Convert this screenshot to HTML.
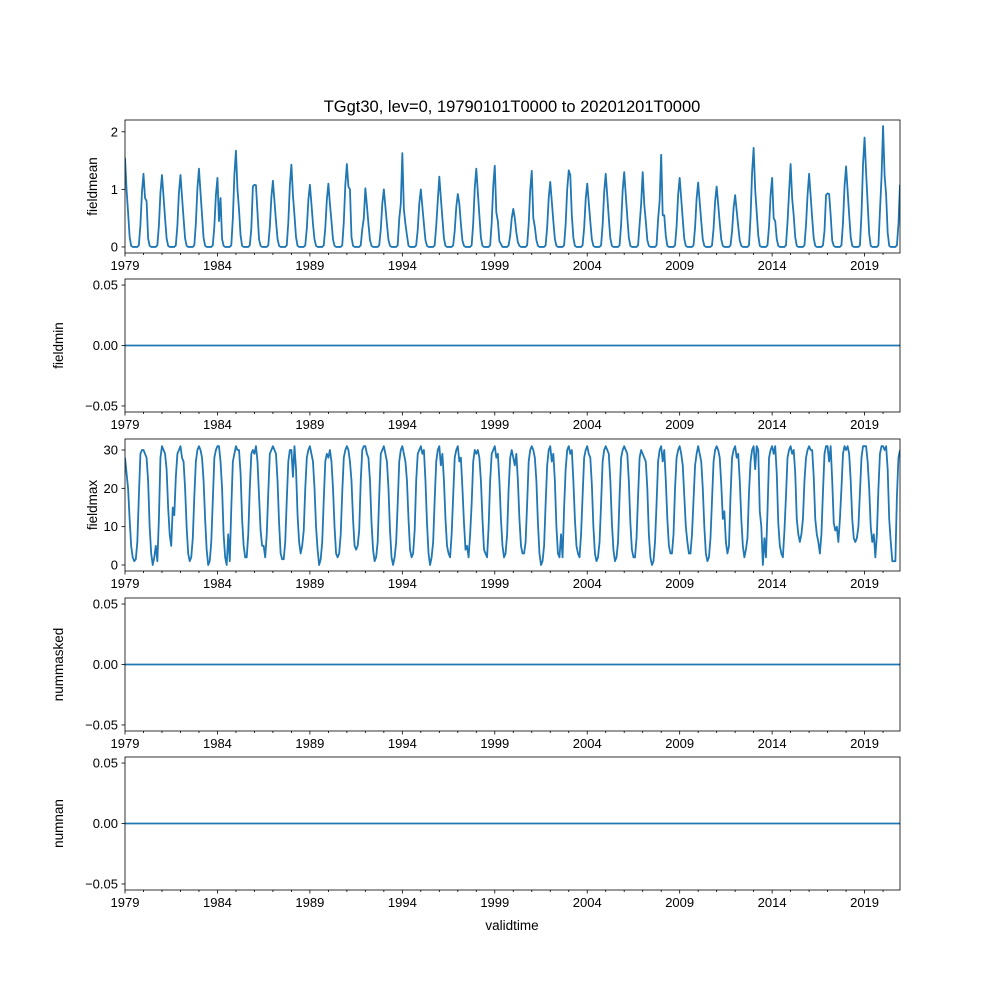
<!DOCTYPE html>
<html><head><meta charset="utf-8"><style>
body{margin:0;background:#fff;}
svg{display:block;font-family:"Liberation Sans","DejaVu Sans",sans-serif;}
</style></head><body>
<svg id="fig" width="1000" height="1000" viewBox="0 0 1000 1000">
<rect width="1000" height="1000" fill="#fff"/>
<text x="512" y="112" font-size="16.5" text-anchor="middle">TGgt30, lev=0, 19790101T0000 to 20201201T0000</text>
<text x="512" y="930" font-size="13.5" text-anchor="middle">validtime</text>
</svg>
<script>
const fieldmeanRows = [
[1.55,1.0,0.6,0.18,0.02,0,0,0,0,0.03,0.38,0.95],
[1.27,0.85,0.8,0.15,0.02,0,0,0,0,0.03,0.37,0.94],
[1.25,0.88,0.5,0.15,0.02,0,0,0,0,0.03,0.37,0.94],
[1.25,0.87,0.5,0.15,0.02,0,0,0,0,0.03,0.41,1.02],
[1.36,0.95,0.55,0.16,0.02,0,0,0,0,0.03,0.36,0.9],
[1.2,0.45,0.85,0.14,0.02,0,0,0,0,0.03,0.5,1.25],
[1.67,1.0,0.65,0.2,0.02,0,0,0,0,0.03,0.32,1.05],
[1.08,1.07,0.6,0.13,0.02,0,0,0,0,0.03,0.35,0.86],
[1.15,0.8,0.45,0.14,0.02,0,0,0,0,0.03,0.43,1.07],
[1.43,0.9,0.55,0.17,0.02,0,0,0,0,0.03,0.32,0.81],
[1.08,0.75,0.4,0.13,0.02,0,0,0,0,0.03,0.33,0.82],
[1.1,0.75,0.45,0.13,0.02,0,0,0,0,0.03,0.43,1.08],
[1.44,1.05,1.0,0.17,0.02,0,0,0,0,0.03,0.31,0.5],
[1.02,0.72,0.4,0.12,0.02,0,0,0,0,0.03,0.3,0.75],
[1.0,0.7,0.4,0.12,0.02,0,0,0,0,0.03,0.49,0.75],
[1.63,0.65,0.4,0.2,0.02,0,0,0,0,0.03,0.3,0.75],
[1.0,0.7,0.4,0.12,0.02,0,0,0,0,0.03,0.37,0.8],
[1.22,0.85,0.5,0.15,0.02,0,0,0,0,0.03,0.28,0.69],
[0.92,0.75,0.4,0.11,0.02,0,0,0,0,0.03,0.41,1.02],
[1.36,0.95,0.55,0.16,0.02,0,0,0,0,0.03,0.42,1.06],
[1.41,0.6,0.45,0.1,0.05,0,0,0,0,0.03,0.2,0.5],
[0.66,0.5,0.25,0.08,0.02,0,0,0,0,0.03,0.4,0.99],
[1.32,0.5,0.35,0.12,0.02,0,0,0,0,0.03,0.34,0.85],
[1.13,0.79,0.45,0.14,0.02,0,0,0,0,0.03,0.4,1.0],
[1.33,1.25,0.55,0.16,0.02,0,0,0,0,0.03,0.33,0.83],
[1.1,0.77,0.44,0.13,0.02,0,0,0,0,0.03,0.38,0.95],
[1.27,0.89,0.5,0.15,0.02,0,0,0,0,0.03,0.39,0.98],
[1.3,0.91,0.52,0.16,0.02,0,0,0,0,0.03,0.39,0.75],
[1.3,0.75,0.45,0.12,0.02,0,0,0,0,0.03,0.48,0.8],
[1.6,0.55,0.55,0.19,0.02,0,0,0,0,0.03,0.36,0.9],
[1.2,0.84,0.48,0.14,0.02,0,0,0,0,0.03,0.34,0.84],
[1.12,0.78,0.45,0.13,0.02,0,0,0,0,0.03,0.32,0.79],
[1.05,0.74,0.42,0.13,0.02,0,0,0,0,0.03,0.27,0.68],
[0.9,0.63,0.36,0.11,0.02,0,0,0,0,0.03,0.52,1.29],
[1.72,1.0,0.6,0.2,0.02,0,0,0,0,0.03,0.36,0.9],
[1.2,0.5,0.45,0.14,0.02,0,0,0,0,0.03,0.43,0.95],
[1.44,0.85,0.55,0.17,0.02,0,0,0,0,0.03,0.38,0.9],
[1.27,0.89,0.5,0.15,0.02,0,0,0,0,0.03,0.28,0.9],
[0.93,0.92,0.55,0.11,0.02,0,0,0,0,0.03,0.42,1.05],
[1.4,0.98,0.56,0.17,0.02,0,0,0,0,0.03,0.57,1.43],
[1.9,1.3,0.76,0.23,0.02,0,0,0,0,0.03,0.63,1.2],
[2.1,1.25,0.9,0.25,0.02,0,0,0,0,0.03,0.4,1.08]
];
const fieldmaxRows = [
[28,24,20,12,5,2,1,1.5,6,18,29,30],
[30,29,28,22,10,3,0,2,5,1,12,28],
[31,30,29,25,15,8,5,15,13,23,29,30],
[31,28,27,20,10,3,1,2,7,18,27,30],
[31,30,28,22,12,4,0,1,6,17,28,30],
[31,31,27,20,8,2,0,8,1,15,27,29],
[31,30,30,24,12,5,2,2,8,20,29,30],
[29,31,27,18,9,5,5,2,8,19,29,30],
[31,30,29,22,11,3,1.5,1.5,6,17,27,30],
[30,23,31,25,13,6,3,5,9,20,28,30],
[31,29,27,20,10,4,0,1.5,6,17,27,29],
[28,30,27,20,10,3,2,3,8,19,28,30],
[31,30,27,22,12,5,4,5,9,22,30,31],
[31,29,28,22,11,4,1,2,6,18,29,30],
[31,29,27,20,9,2,0,2,6,16,27,30],
[31,29,27,22,12,4,2,3,9,22,29,30],
[31,29,30,22,11,3,0,2,6,17,27,30],
[31,26,29,22,12,5,3,2,8,18,28,30],
[31,27,28,20,11,4,5,2,8,16,27,30],
[29,30,28,22,12,4,3,2,10,22,29,30],
[31,28,29,22,12,5,2,3,8,20,28,30],
[28,26,29,22,12,5,3,3,6,16,27,30],
[31,30,28,22,11,3,0,1,5,16,26,30],
[31,27,29,22,10,3,2,8,2,15,25,30],
[31,29,30,22,12,5,3,2,8,18,28,30],
[31,29,28,21,10,3,1,2,6,16,27,30],
[31,30,29,22,11,4,1,2,6,18,28,30],
[31,30,29,22,11,4,2,2,7,18,28,30],
[29,28,27,20,8,2,0,1,6,16,27,30],
[31,27,30,22,12,5,3,3,8,20,28,30],
[31,29,26,18,10,6,3,3,8,17,26,29],
[31,29,27,20,10,3,1,2,7,17,27,30],
[31,30,28,21,12,14,6,3,5,18,28,30],
[31,28,29,22,12,5,2,4,7,19,27,30],
[31,25,31,30,14,10,0,7,2,14,28,30],
[31,29,31,24,11,5,3,2,9,18,28,30],
[31,29,30,24,12,8,6,8,12,22,28,30],
[31,30,30,23,12,8,6,3,8,19,29,31],
[31,27,31,22,11,9,10,6,12,20,29,31],
[30,31,29,22,12,7,6,7,10,19,28,31],
[31,31,27,20,10,6,8,2,8,20,29,31],
[31,30,31,25,12,6,1,1,1,18,28,30]
];
const zeroSeries = [0, 0];
const xMajorTicks = [1979,1984,1989,1994,1999,2004,2009,2014,2019];
const fieldmeanTicks = [0,1,2];
const fieldmaxTicks = [0,10,20,30];
const zeroTicks = [-0.05,0.00,0.05];
const zeroTickLabels = ["\u22120.05","0.00","0.05"];

const NS="http://www.w3.org/2000/svg";
const svg=document.getElementById('fig');
const X0=125,X1=900,T0=1979,T1=2020+11/12;
function xScale(t){return X0+(t-T0)/(T1-T0)*(X1-X0);}
function mk(tag,attrs,parent){const e=document.createElementNS(NS,tag);for(const k in attrs)e.setAttribute(k,attrs[k]);(parent||svg).appendChild(e);return e;}

function panel(name,top,bottom,ymin,ymax,ticks,tickLabels,tVals,yVals){
  const g=mk('g',{});
  
  
  const yS=v=>bottom-(v-ymin)/(ymax-ymin)*(bottom-top);
  let d='';
  for(let i=0;i<yVals.length;i++){d+=(i?'L':'M')+xScale(tVals[i]).toFixed(2)+','+yS(yVals[i]).toFixed(2);}
  const clipId='clip-'+name;
  const cp=mk('clipPath',{id:clipId},g);mk('rect',{x:X0,y:top,width:X1-X0,height:bottom-top},cp);
  const line=mk('path',{d:d,fill:'none',stroke:'#1f77b4','stroke-width':1.8,'stroke-linejoin':'round','clip-path':'url(#'+clipId+')'},g);
  
  
  const frame=mk('rect',{x:X0,y:top,width:X1-X0,height:bottom-top,fill:'none',stroke:'#000','stroke-width':0.8},g);
  
  
  ticks.forEach((v,i)=>{
    const y=yS(v);
    mk('line',{x1:X0-3.5,x2:X0,y1:y,y2:y,stroke:'#000','stroke-width':0.8},g);
    const t=mk('text',{x:X0-7,y:y+4.5,'font-size':13,'text-anchor':'end'},g);
    t.textContent=tickLabels[i];
    
    
  });
  for(let yr=1979;yr<=2020;yr++){
    const x=xScale(yr);
    const major=xMajorTicks.includes(yr);
    mk('line',{x1:x,x2:x,y1:bottom,y2:bottom+(major?3.5:2),stroke:'#000','stroke-width':0.8},g);
    if(major){
      const t=mk('text',{x:x,y:bottom+17,'font-size':13,'text-anchor':'middle'},g);
      t.textContent=String(yr);
      
      
    }
  }
  const lab=mk('text',{x:0,y:0,'font-size':13.5,'text-anchor':'middle',transform:'translate('+(name==='fieldmean'||name==='fieldmax'?97:63)+','+((top+bottom)/2)+') rotate(-90)'},g);
  lab.textContent=name;
  
  
}

const tMonthly=[],meanVals=[],maxVals=[];
fieldmeanRows.forEach((row,yi)=>row.forEach((v,m)=>{tMonthly.push(1979+yi+m/12);meanVals.push(v);maxVals.push(fieldmaxRows[yi][m]);}));
const tZero=[T0,T1];

panel('fieldmean',120,253,-0.105,2.205,fieldmeanTicks,fieldmeanTicks.map(String),tMonthly,meanVals);
panel('fieldmin',279,412,-0.055,0.055,zeroTicks,zeroTickLabels,tZero,zeroSeries);
panel('fieldmax',439,571,-1.565,32.87,fieldmaxTicks,fieldmaxTicks.map(String),tMonthly,maxVals);
panel('nummasked',598,731,-0.055,0.055,zeroTicks,zeroTickLabels,tZero,zeroSeries);
panel('numnan',757,890,-0.055,0.055,zeroTicks,zeroTickLabels,tZero,zeroSeries);
</script>
</body></html>
